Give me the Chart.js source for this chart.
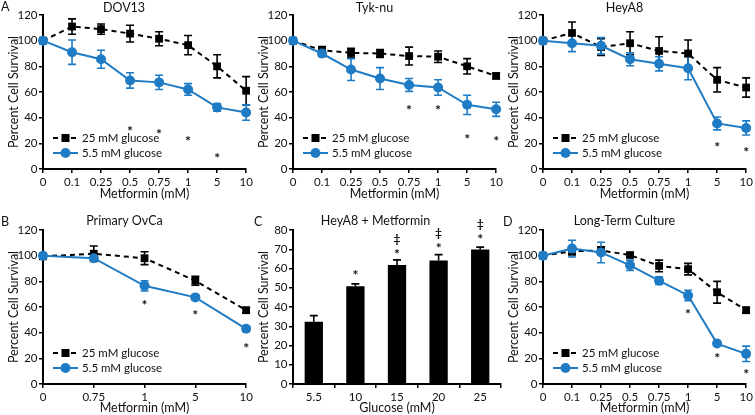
<!DOCTYPE html>
<html>
<head>
<meta charset="utf-8">
<script src="https://cdn.jsdelivr.net/npm/chart.js@4.4.1/dist/chart.umd.min.js"></script>
<style>
  html, body { margin: 0; padding: 0; background: #fff; }
  #fig { position: relative; width: 755px; height: 415px; overflow: hidden; font-family: Lato, 'Open Sans', sans-serif; }
  .panel { position: absolute; }
  .tag { position: absolute; font-size: 12.5px; line-height: 14px; color: #111; }
</style>
</head>
<body>
<div id="fig">
  <div class="panel" style="left:0;top:0;width:255px;height:205px"><canvas id="dov13"></canvas></div>
  <div class="panel" style="left:250px;top:0;width:255px;height:205px"><canvas id="tyknu"></canvas></div>
  <div class="panel" style="left:500px;top:0;width:255px;height:205px"><canvas id="heya8"></canvas></div>
  <div class="panel" style="left:0;top:205px;width:255px;height:210px"><canvas id="primary"></canvas></div>
  <div class="panel" style="left:250px;top:205px;width:255px;height:210px"><canvas id="glucose"></canvas></div>
  <div class="panel" style="left:500px;top:205px;width:255px;height:210px"><canvas id="longterm"></canvas></div>
  <span class="tag" style="left:1px;top:0px">A</span>
  <span class="tag" style="left:1px;top:215px">B</span>
  <span class="tag" style="left:254px;top:215px">C</span>
  <span class="tag" style="left:503px;top:215px">D</span>
</div>
<script>
// metformin doses (mM)
const doses = ['0', '0.1', '0.25', '0.5', '0.75', '1', '5', '10'];
const primaryDoses = ['0', '0.75', '1', '5', '10'];
const glucoseLevels = ['5.5', '10', '15', '20', '25'];

const survivalTicks = [0, 20, 40, 60, 80, 100, 120];
const barTicks = [0, 10, 20, 30, 40, 50, 60, 70, 80];

// DOV13
const dov13High = [100, 111, 109, 105.5, 101.5, 96.5, 80, 61];
const dov13HighErr = [0, 6, 4, 6.5, 5.5, 7.5, 9, 11];
const dov13Low = [100, 91, 85.5, 69, 67.5, 62, 48, 44];
const dov13LowErr = [0, 9.5, 7, 6, 5.5, 4.5, 3, 6];
const dov13Stars = [null, null, null, 32, 29.5, 24, 11, null];

// Tyk-nu
const tykHigh = [100, 92.5, 90.5, 90, 88, 87.5, 80, 72.5];
const tykHighErr = [0, 3, 3.5, 3, 7, 4.5, 6, 2];
const tykLow = [100, 90, 77.5, 70.5, 65.5, 63.5, 50, 46.5];
const tykLowErr = [0, 2.5, 8.5, 8.5, 5, 6, 7.5, 5.5];
const tykStars = [null, null, null, null, 48.5, 48, 25.5, 24.5];

// HeyA8
const heyHigh = [100, 106, 95, 98, 92, 90, 69.5, 63.5];
const heyHighErr = [0, 8.5, 6.5, 9, 11, 10.5, 9.5, 7.5];
const heyLow = [100, 98, 96, 85.5, 82, 78.5, 35.5, 32];
const heyLowErr = [0, 6.5, 6.5, 5, 5.5, 9, 5, 5.5];
const heyStars = [null, null, null, null, null, null, 19.5, 15.5];

// Primary OvCa
const primHigh = [99.5, 101.5, 98, 80.5, 57.5];
const primHighErr = [0, 6, 5, 3.5, 2];
const primLow = [100, 98, 76.5, 67.5, 43];
const primLowErr = [0, 2, 4, 2, 2];
const primStars = [null, null, 64, 56, 30.5];

// HeyA8 + Metformin, by glucose
const glucoseSurvival = [32.3, 50.8, 61.8, 64.2, 69.9];
const glucoseErr = [3.2, 1.2, 2.7, 3, 1.2];
const glucoseStars = [null, 58.3, 69, 72, 76.8];
const glucoseDaggers = [null, null, 75.2, 78.4, 82.9];

// Long-term culture
const ltHigh = [100, 103.5, 104, 100.5, 92, 89.5, 71.5, 57.5];
const ltHighErr = [0, 3, 3, 1.5, 4.5, 4.5, 8.5, 2.3];
const ltLow = [100, 105.5, 102.5, 92.5, 80.5, 69, 31.5, 23.5];
const ltLowErr = [0, 6.5, 8, 4, 3, 4, 2, 6];
const ltStars = [null, null, null, null, null, 57, 22.5, 10.5];

const FONT = 'Lato, "Open Sans", sans-serif';
const BLUE = '#1f7bc4';
const TEXT = '#111';

Chart.defaults.font.family = FONT;
Chart.defaults.color = TEXT;
Chart.defaults.animation = false;

// error bars drawn under the markers
const errorBars = {
    id: 'errorBars',
    beforeDatasetsDraw(chart) {
        const { ctx } = chart;
        const y = chart.scales.y;
        chart.data.datasets.forEach((ds, i) => {
            if (!ds.errors) return;
            const meta = chart.getDatasetMeta(i);
            ctx.save();
            ctx.strokeStyle = ds.errorColor || ds.borderColor;
            ctx.lineWidth = 1.6;
            ctx.setLineDash([]);
            meta.data.forEach((el, j) => {
                const e = ds.errors[j];
                if (!e) return;
                const v = ds.data[j];
                const top = y.getPixelForValue(v + e);
                const bot = ds.errorUpOnly ? y.getPixelForValue(v) : y.getPixelForValue(v - e);
                ctx.beginPath();
                ctx.moveTo(el.x, top); ctx.lineTo(el.x, bot);
                ctx.moveTo(el.x - 4, top); ctx.lineTo(el.x + 4, top);
                if (!ds.errorUpOnly) { ctx.moveTo(el.x - 4, bot); ctx.lineTo(el.x + 4, bot); }
                ctx.stroke();
            });
            ctx.restore();
        });
    }
};

// significance marks (* and ‡)
const sigMarks = {
    id: 'sigMarks',
    afterDatasetsDraw(chart, args, opts) {
        if (!opts.rows) return;
        const { ctx } = chart;
        const x = chart.scales.x, y = chart.scales.y;
        ctx.save();
        ctx.fillStyle = TEXT;
        ctx.textAlign = 'center';
        ctx.textBaseline = 'middle';
        opts.rows.forEach(row => {
            ctx.font = row.weight + ' ' + row.size + 'px ' + FONT;
            row.values.forEach((v, i) => {
                if (v == null) return;
                ctx.fillText(row.text, x.getPixelForValue(i), y.getPixelForValue(v) + row.shift);
            });
        });
        ctx.restore();
    }
};

// legend inside the plot, bottom-left
const innerLegend = {
    id: 'innerLegend',
    afterDatasetsDraw(chart, args, opts) {
        if (!opts.show) return;
        const { ctx, chartArea } = chart;
        const x0 = chartArea.left + 10;
        chart.data.datasets.forEach((ds, i) => {
            const yy = chartArea.bottom - 31 + i * 15;
            ctx.save();
            ctx.strokeStyle = ds.borderColor;
            ctx.lineWidth = ds.borderWidth;
            ctx.setLineDash(ds.borderDash || []);
            ctx.beginPath();
            ctx.moveTo(x0, yy); ctx.lineTo(x0 + 25, yy);
            ctx.stroke();
            ctx.setLineDash([]);
            ctx.fillStyle = ds.backgroundColor;
            const cx = x0 + 12.5;
            if (ds.pointStyle === 'rect') {
                ctx.fillRect(cx - 4, yy - 4, 8, 8);
            } else {
                ctx.beginPath();
                ctx.arc(cx, yy, ds.pointRadius, 0, Math.PI * 2);
                ctx.fill();
            }
            ctx.fillStyle = TEXT;
            ctx.font = '11.5px ' + FONT;
            ctx.textBaseline = 'middle';
            ctx.fillText(ds.label, x0 + 29, yy + 0.5);
            ctx.restore();
        });
    }
};

function axisX(title, bottomPad, height, offset) {
    return {
        type: 'category',
        offset: offset,
        grid: { display: true, drawOnChartArea: false, tickLength: 4, color: '#000', lineWidth: 1.5, offset: offset },
        border: { color: '#000', width: 2 },
        ticks: { font: { size: 11.5 }, color: TEXT, padding: 2.2, maxRotation: 0, autoSkip: false },
        title: { display: true, text: title, font: { size: 12.5 }, color: TEXT, padding: { top: 0, bottom: bottomPad } },
        afterFit(scale) { scale.height = height; }
    };
}

function axisY(max, ticks) {
    return {
        min: 0,
        max: max,
        grid: { display: true, drawOnChartArea: false, tickLength: 4, color: '#000', lineWidth: 1.5 },
        border: { color: '#000', width: 2 },
        ticks: { font: { size: 11.5 }, color: TEXT, padding: 1.5 },
        afterBuildTicks(scale) { scale.ticks = ticks.map(v => ({ value: v })); },
        title: { display: true, text: 'Percent Cell Survival', font: { size: 12.5 }, color: TEXT, padding: { top: 6, bottom: 0 } },
        afterFit(scale) { scale.width = 43; }
    };
}

function linePanel(id, title, labels, high, highErr, low, lowErr, stars, frame) {
    new Chart(document.getElementById(id), {
        type: 'line',
        data: {
            labels: labels,
            datasets: [{
                label: '25 mM glucose',
                data: high,
                errors: highErr,
                borderColor: '#000',
                backgroundColor: '#000',
                borderWidth: 2,
                borderDash: [5, 4],
                pointStyle: 'rect',
                pointRadius: 5.5,
                pointBorderWidth: 0,
                order: 2,
                clip: false
            }, {
                label: '5.5 mM glucose',
                data: low,
                errors: lowErr,
                borderColor: BLUE,
                backgroundColor: BLUE,
                borderWidth: 2,
                pointStyle: 'circle',
                pointRadius: 5,
                pointBorderWidth: 0,
                order: 1,
                clip: false
            }]
        },
        options: {
            responsive: true,
            maintainAspectRatio: false,
            layout: { padding: { top: frame.top, right: frame.right, left: 0, bottom: 0 } },
            plugins: {
                legend: { display: false },
                tooltip: { enabled: false },
                title: { display: true, text: title, font: { size: 12.5, weight: 'normal' }, color: TEXT, padding: { top: 0, bottom: frame.titleGap } },
                innerLegend: { show: true },
                sigMarks: { rows: [{ values: stars, text: '*', size: 14, weight: 'bold', shift: 3.5 }] }
            },
            scales: {
                x: axisX('Metformin (mM)', frame.xTitlePad, frame.xHeight, false),
                y: axisY(120, survivalTicks)
            }
        },
        plugins: [errorBars, sigMarks, innerLegend]
    });
}

const topFrame = { top: 0, titleGap: 0, xHeight: 36, xTitlePad: 3.5 };
const botFrame = { top: 8, titleGap: 2, xHeight: 31, xTitlePad: 0 };

linePanel('dov13', 'DOV13', doses, dov13High, dov13HighErr, dov13Low, dov13LowErr, dov13Stars, { ...topFrame, right: 7 });
linePanel('tyknu', 'Tyk-nu', doses, tykHigh, tykHighErr, tykLow, tykLowErr, tykStars, { ...topFrame, right: 6 });
linePanel('heya8', 'HeyA8', doses, heyHigh, heyHighErr, heyLow, heyLowErr, heyStars, { ...topFrame, right: 6 });
linePanel('primary', 'Primary OvCa', primaryDoses, primHigh, primHighErr, primLow, primLowErr, primStars, { ...botFrame, right: 6 });
linePanel('longterm', 'Long-Term Culture', doses, ltHigh, ltHighErr, ltLow, ltLowErr, ltStars, { ...botFrame, right: 6 });

new Chart(document.getElementById('glucose'), {
    type: 'bar',
    data: {
        labels: glucoseLevels,
        datasets: [{
            label: 'HeyA8 + Metformin',
            data: glucoseSurvival,
            errors: glucoseErr,
            errorUpOnly: true,
            errorColor: '#000',
            backgroundColor: '#000',
            borderWidth: 0,
            barPercentage: 0.44,
            categoryPercentage: 1
        }]
    },
    options: {
        responsive: true,
        maintainAspectRatio: false,
        layout: { padding: { top: botFrame.top, right: 4, left: 0, bottom: 0 } },
        plugins: {
            legend: { display: false },
            tooltip: { enabled: false },
            title: { display: true, text: 'HeyA8 + Metformin', font: { size: 12.5, weight: 'normal' }, color: TEXT, padding: { top: 0, bottom: botFrame.titleGap } },
            sigMarks: { rows: [
                { values: glucoseStars, text: '*', size: 14, weight: 'bold', shift: 3.5 },
                { values: glucoseDaggers, text: '‡', size: 12, weight: 'bold', shift: 0 }
            ] }
        },
        scales: {
            x: axisX('Glucose (mM)', 0, 31, true),
            y: axisY(80, barTicks)
        }
    },
    plugins: [errorBars, sigMarks]
});
</script>
</body>
</html>
